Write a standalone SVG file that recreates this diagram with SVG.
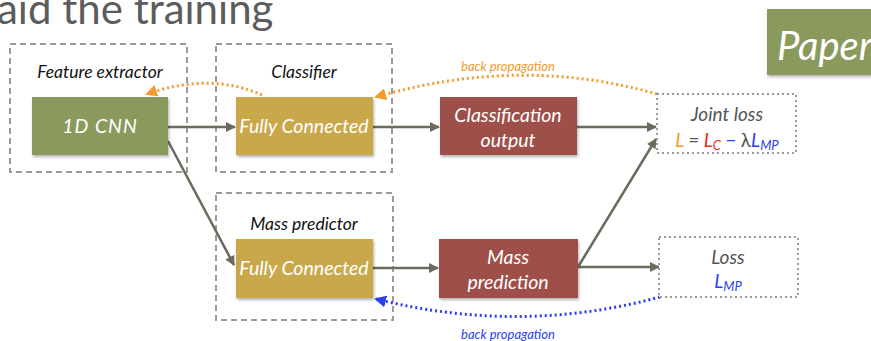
<svg xmlns="http://www.w3.org/2000/svg" width="871" height="341" viewBox="0 0 871 341">
<style>
.t{font-family:Lato,"Open Sans",sans-serif;font-style:italic}
.grp{fill:none;stroke:#9a9a9a;stroke-width:2;stroke-dasharray:6 4}
.loss{fill:#fff;stroke:#9a9a9a;stroke-width:2;stroke-dasharray:2 3}
.lbl{font-size:17.5px;fill:#111;text-anchor:middle}
.nt{font-size:19.5px;fill:#fff;text-anchor:middle}
.edge{stroke:#6b6a5c;stroke-width:2.5;fill:none;marker-end:url(#ah)}
.bpo{stroke:#f39a2b;stroke-width:3;stroke-dasharray:2 3;fill:none;marker-end:url(#ao)}
.bpb{stroke:#2b3ff0;stroke-width:3;stroke-dasharray:2 3;fill:none;marker-end:url(#ab)}
</style>
<defs>
<marker id="ah" markerWidth="10" markerHeight="10" refX="9" refY="5" orient="auto" markerUnits="userSpaceOnUse" viewBox="0 0 10 10"><path d="M0,0 L10,5 L0,10 z" fill="#6b6a5c"/></marker>
<marker id="ao" markerWidth="12" markerHeight="12" refX="10" refY="6" orient="auto" markerUnits="userSpaceOnUse" viewBox="0 0 12 12"><path d="M0,0 L12,6 L0,12 z" fill="#f39a2b"/></marker>
<marker id="ab" markerWidth="12" markerHeight="12" refX="10" refY="6" orient="auto" markerUnits="userSpaceOnUse" viewBox="0 0 12 12"><path d="M0,0 L12,6 L0,12 z" fill="#2b3ff0"/></marker>
<filter id="sh" x="-10%" y="-10%" width="125%" height="130%"><feDropShadow dx="1" dy="2" stdDeviation="1.5" flood-color="#000" flood-opacity="0.3"/></filter>
</defs>
<text x="-3" y="24" font-family="Lato,'Open Sans',sans-serif" font-size="42" fill="#5c5c5c">aid the training</text>
<g id="paper">
<rect x="767" y="9" width="110" height="66" fill="#8a9a5b" filter="url(#sh)"/>
<text x="777" y="60" class="t" font-size="40" fill="#fff">Paper</text>
</g>
<g id="groups">
<rect class="grp" x="10" y="44" width="177" height="128"/>
<text class="t lbl" x="100" y="78">Feature extractor</text>
<rect class="grp" x="216" y="44" width="176" height="128"/>
<text class="t lbl" x="304" y="78">Classifier</text>
<rect class="grp" x="216" y="193" width="177" height="127"/>
<text class="t lbl" x="304" y="230">Mass predictor</text>
</g>
<g id="connectors">
<path class="edge" d="M168,127 L235,127"/>
<path class="edge" d="M168,141 L234,265"/>
<path class="edge" d="M373,127 L439,127"/>
<path class="edge" d="M577,127 L656,127"/>
<path class="edge" d="M373,268 L438,268"/>
<path class="edge" d="M578,267 L659,267"/>
<path class="edge" d="M578,267 L656,139"/>
<path class="bpo" d="M262,95 Q210,72 147,94"/>
<path class="bpo" d="M657,94 Q520,55 376,97"/>
<path class="bpb" d="M660,297 Q520,335 376,299"/>
<text class="t" x="508" y="71" font-size="13" fill="#f39a2b" text-anchor="middle">back propagation</text>
<text class="t" x="508" y="339" font-size="13" fill="#2b3ff0" text-anchor="middle">back propagation</text>
</g>
<g id="cnn">
<rect x="32" y="97" width="136" height="58" fill="#8a9a5b" filter="url(#sh)"/>
<text class="t nt" x="100" y="133" font-size="21" letter-spacing="1">1D CNN</text>
</g>
<g id="fc1">
<rect x="236" y="97" width="137" height="58" fill="#c9a84c" filter="url(#sh)"/>
<text class="t nt" x="304" y="133">Fully Connected</text>
</g>
<g id="clsout">
<rect x="440" y="97" width="137" height="58" fill="#9e4f48" filter="url(#sh)"/>
<text class="t nt" x="508" y="122" font-size="18.5">Classification</text>
<text class="t nt" x="508" y="147" font-size="18.5">output</text>
</g>
<g id="fc2">
<rect x="236" y="239" width="137" height="59" fill="#c9a84c" filter="url(#sh)"/>
<text class="t nt" x="304" y="275">Fully Connected</text>
</g>
<g id="massout">
<rect x="439" y="239" width="139" height="59" fill="#9e4f48" filter="url(#sh)"/>
<text class="t nt" x="508" y="264" font-size="18.5">Mass</text>
<text class="t nt" x="508" y="289" font-size="18.5">prediction</text>
</g>
<g id="jointloss">
<rect class="loss" x="657" y="94" width="139" height="59"/>
<text class="t" x="727" y="121" font-size="19" fill="#555" text-anchor="middle">Joint loss</text>
<text class="t" x="727" y="147" font-size="19" text-anchor="middle"><tspan fill="#f39a2b">L</tspan><tspan fill="#555"> = </tspan><tspan fill="#ee2a1e">L<tspan font-size="13" dy="3">C</tspan></tspan><tspan fill="#2b3ff0" dy="-3"> − </tspan><tspan fill="#555" font-style="normal">λ</tspan><tspan fill="#2b3ff0">L<tspan font-size="13" dy="3">MP</tspan></tspan></text>
</g>
<g id="loss">
<rect class="loss" x="659" y="237" width="139" height="60"/>
<text class="t" x="728" y="264" font-size="19" fill="#555" text-anchor="middle">Loss</text>
<text class="t" x="728" y="288" font-size="19" fill="#2b3ff0" text-anchor="middle">L<tspan font-size="13" dy="3">MP</tspan></text>
</g>
</svg>
